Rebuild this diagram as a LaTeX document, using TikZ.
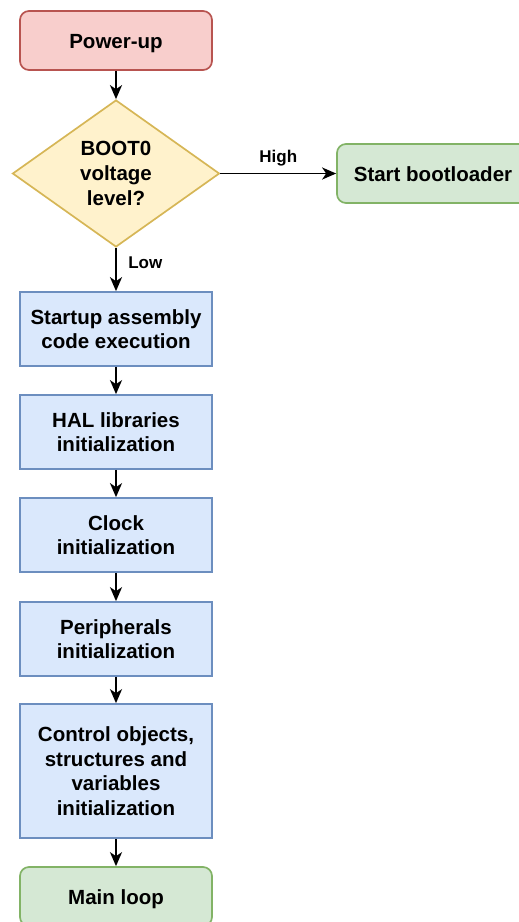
\documentclass[tikz,border=0pt]{standalone}
\usepackage{fontspec}
\setmainfont{Liberation Sans}
\usetikzlibrary{shapes.geometric,arrows.meta}
\definecolor{redfill}{HTML}{F8CECC}
\definecolor{redline}{HTML}{B85450}
\definecolor{yelfill}{HTML}{FFF2CC}
\definecolor{yelline}{HTML}{D6B656}
\definecolor{grnfill}{HTML}{D5E8D4}
\definecolor{grnline}{HTML}{82B366}
\definecolor{blufill}{HTML}{DAE8FC}
\definecolor{bluline}{HTML}{6C8EBF}
\tikzset{
  box/.style={draw, line width=1.7pt, minimum width=192pt, align=center, inner sep=0pt,
    font=\fontsize{20.5}{24.6}\selectfont\bfseries},
  terminal/.style={box, rounded corners=9pt, minimum height=59pt, text height=15pt, text depth=0pt},
  process/.style={box, fill=blufill, draw=bluline},
  decision/.style={draw=yelline, fill=yelfill, line width=1.7pt, diamond, aspect=1.41,
    minimum width=207pt, minimum height=147pt, inner sep=0pt, align=center,
    font=\fontsize{20.5}{24.6}\selectfont\bfseries},
  flow/.style={-{Stealth[length=14pt,width=12pt,inset=4pt]}, line width=1.9pt},
  edgelabel/.style={font=\fontsize{17}{20}\selectfont\bfseries}
}
\begin{document}
\begin{tikzpicture}[x=1pt,y=-1pt]
\useasboundingbox (0,0) rectangle (519,922);
\clip (0,0) rectangle (519,922);
\node[terminal, fill=redfill, draw=redline] (power) at (116,40.5) {Power-up};
\node[decision] (boot) at (116,173.5) {BOOT0\\voltage\\level?};
\node[terminal, fill=grnfill, draw=grnline] (loader) at (433,173.5) {Start bootloader};
\node[process, minimum height=74pt] (startup) at (116,329) {Startup assembly\\code execution};
\node[process, minimum height=74pt] (hal) at (116,432) {HAL libraries\\initialization};
\node[process, minimum height=74pt] (clock) at (116,535) {Clock\\initialization};
\node[process, minimum height=74pt] (periph) at (116,639) {Peripherals\\initialization};
\node[process, minimum height=134pt] (ctrl) at (116,771) {Control objects,\\structures and\\variables\\initialization};
\node[terminal, fill=grnfill, draw=grnline] (mainloop) at (116,896.5) {Main loop};
\draw[flow] (power) -- (boot);
\draw[flow] (boot.east) -- node[edgelabel, above=3pt] (high) {High} (loader.west);
\draw[flow] (boot.south) -- node[edgelabel, right=8pt, pos=0.35] (low) {Low} (startup.north);
\draw[flow] (startup) -- (hal);
\draw[flow] (hal) -- (clock);
\draw[flow] (clock) -- (periph);
\draw[flow] (periph) -- (ctrl);
\draw[flow] (ctrl) -- (mainloop);
\end{tikzpicture}
\end{document}
